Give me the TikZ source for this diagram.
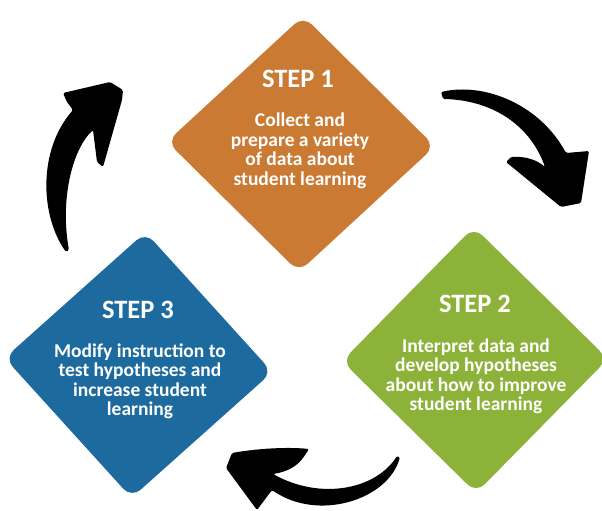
\documentclass[tikz,border=0pt]{standalone}
\usepackage{fontspec}
\setmainfont{Carlito}
\usepackage{tikz}
\usetikzlibrary{calc}
\usepackage{xcolor}
\definecolor{stepone}{HTML}{CB7A34}
\definecolor{steptwo}{HTML}{8DB23A}
\definecolor{stepthree}{HTML}{1D6B9E}
\tikzset{
 brush/.style={fill=black, rounded corners=1.5pt}
}
\tikzstyle{steptitle}=[text=white, inner sep=0pt, anchor=base, font=\bfseries\fontsize{26.5}{26.5}\selectfont]
\tikzstyle{stepbody}=[text=white, inner sep=0pt, anchor=base, align=center, font=\bfseries\fontsize{19.5}{19.5}\selectfont]
% #1 colour, #2 centre, #3/#4 half diagonals, #5 tilt
\newcommand{\stepdiamond}[5]{
 \fill[#1, rounded corners=12pt, rotate around={#5:#2}] ($#2+(#3,0)$) -- ($#2+(0,#4)$) -- ($#2-(#3,0)$) -- ($#2-(0,#4)$) -- cycle;
}

\begin{document}
\begin{tikzpicture}[x=1pt, y=-1pt]
 \clip (0,0) rectangle (602,511);
 \fill[white] (0,0) rectangle (602,511);
%
 \stepdiamond{stepone}{(301,144)}{134}{128}{-1}
 \stepdiamond{steptwo}{(475,360)}{133}{133}{0.5}
 \stepdiamond{stepthree}{(138.5,365)}{134}{133}{-3}
%
 % body nodes sit on the baseline of their last line
 \node[steptitle] (title1) at (298,88) {STEP 1};
 \node[stepbody] (body1) at (300,185) {Collect and\\prepare a variety\\of data about\\student learning};
 \node[steptitle] (title2) at (475,312) {STEP 2};
 \node[stepbody] (body2) at (476,410.5) {Interpret data and\\develop hypotheses\\about how to improve\\student learning};
 \node[steptitle] (title3) at (138,318) {STEP 3};
 \node[stepbody] (body3) at (140,415.5) {Modify instruction to\\test hypotheses and\\increase student\\learning};
%
 % 1 -> 2
 \fill[brush] (441,92) .. controls (485,82) and (540,105) .. (566,153) -- (589,151) -- (581,203) -- (561,207) -- (506,162) -- (511,157) .. controls (525,156) and (537,160) .. (545,167) .. controls (530,125) and (492,100) .. (443,99) -- cycle;
 % 2 -> 3
 \fill[brush] (400,457) .. controls (388,500) and (318,522) .. (272,490) -- (257,510) -- (226,468) -- (232,453) .. controls (260,448) and (290,447) .. (309,449) -- (303,458) .. controls (295,468) and (285,472) .. (273,474) .. controls (320,500) and (375,490) .. (397,456) -- cycle;
 % 3 -> 1
 \fill[brush] (66,252) .. controls (40,215) and (38,150) .. (73,110) -- (67,102) -- (63,93) -- (110,82) -- (123,90) -- (122,100) -- (103,167) -- (97,162) -- (93,130) .. controls (72,150) and (60,200) .. (69,250) -- cycle;
\end{tikzpicture}
\end{document}
